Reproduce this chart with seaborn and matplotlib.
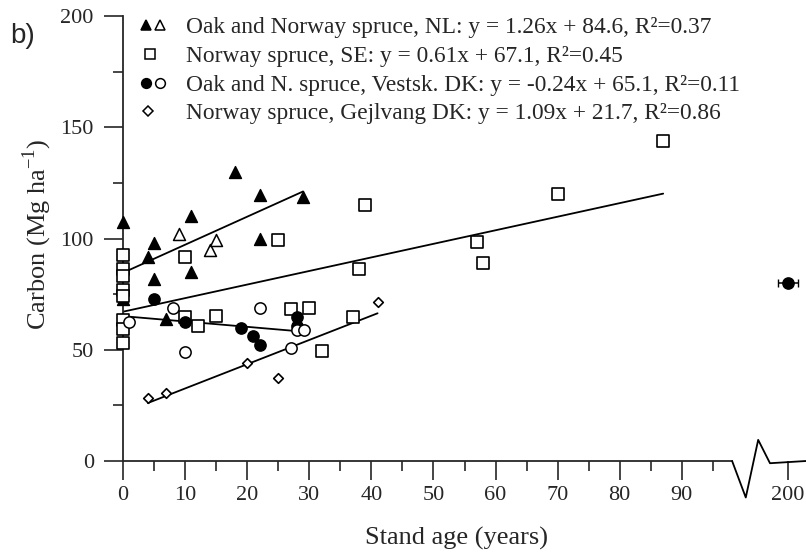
import numpy as np
import matplotlib
matplotlib.use('Agg')
import matplotlib.pyplot as plt
import seaborn as sns

# ---- data ----
nl_filled_x = [0, 0, 4, 5, 5, 7, 11, 11, 18, 22, 22, 29]
nl_filled_y = [107.5, 73, 91.5, 97.8, 82, 63.8, 110, 84.8, 130, 119.5, 100, 118.7]
nl_open_x = [9, 14, 15]
nl_open_y = [102.2, 94.7, 99.5]

se_x = [0, 0, 0, 0, 0, 0, 0, 0, 10, 25, 10, 15, 12, 27, 30, 32, 39, 57, 58, 38, 37, 70, 87]
se_y = [92.5, 86.5, 83, 77, 74, 63.5, 59.5, 53, 91.5, 99.5, 64.8, 65.3, 60.6, 68.3, 68.6,
        49.6, 114.9, 98.5, 88.8, 86.5, 64.5, 120.2, 143.8]

dk_filled_x = [5, 10, 19, 21, 22, 28, 28, 200]
dk_filled_y = [72.7, 62.4, 59.8, 56.1, 52.1, 64.6, 60.7, 80.2]
dk_open_x = [1, 8, 22, 10, 27, 28, 29.2]
dk_open_y = [62.6, 68.6, 68.6, 48.9, 50.6, 58.8, 59.1]

gj_x = [4, 7, 20, 25, 41]
gj_y = [28.4, 30.4, 44.2, 37.4, 71.5]

# regression lines: slope, intercept, x range
fits = {
    'NL': (1.26, 84.6, 0, 29),
    'SE': (0.61, 67.1, 0, 87),
    'DK': (-0.24, 65.1, 0, 28),
    'GJ': (1.09, 21.7, 4, 41),
}

legend_labels = [
    'Oak and Norway spruce, NL: y = 1.26x + 84.6, R\u00b2=0.37',
    'Norway spruce, SE: y = 0.61x + 67.1, R\u00b2=0.45',
    'Oak and N. spruce, Vestsk. DK: y = -0.24x + 65.1, R\u00b2=0.11',
    'Norway spruce, Gejlvang DK: y = 1.09x + 21.7, R\u00b2=0.86',
]

x_ticks = [0, 10, 20, 30, 40, 50, 60, 70, 80, 90, 200]


def brk(x):
    # broken axis: values above 100 are drawn just after the break
    x = np.asarray(x, dtype=float)
    return np.where(x > 100, x - 92.9, x)


sns.set_style('ticks')
plt.rcParams['font.family'] = ['Liberation Serif', 'DejaVu Serif']
plt.rcParams['mathtext.fontset'] = 'custom'
plt.rcParams['mathtext.rm'] = 'Liberation Serif'

W, H = 806, 553
fig = plt.figure(figsize=(W / 100, H / 100), dpi=100)
ax = fig.add_axes([123 / W, 92 / H, 1 - 123 / W, 445 / H])

pt = dict(clip_on=False, zorder=3, legend=False, ax=ax)
sns.scatterplot(x=brk(nl_filled_x), y=nl_filled_y, marker='^', s=74, color='black',
                edgecolor='black', linewidth=1, **pt)
sns.scatterplot(x=brk(nl_open_x), y=nl_open_y, marker='^', s=74, color='white',
                edgecolor='black', linewidth=1.1, **pt)
sns.scatterplot(x=brk(se_x), y=se_y, marker='s', s=63, color='white',
                edgecolor='black', linewidth=1.2, **pt)
sns.scatterplot(x=brk(dk_filled_x), y=dk_filled_y, marker='o', s=66, color='black',
                edgecolor='black', linewidth=1, **pt)
sns.scatterplot(x=brk(dk_open_x), y=dk_open_y, marker='o', s=66, color='white',
                edgecolor='black', linewidth=1.1, **pt)
sns.scatterplot(x=brk(gj_x), y=gj_y, marker='D', s=24, color='white',
                edgecolor='black', linewidth=1.2, **pt)

# error bar of the old stand
ax.errorbar(brk(dk_filled_x[-1:]), dk_filled_y[-1:], xerr=1.6, fmt='none',
            ecolor='black', elinewidth=1.1, capsize=3, clip_on=False, zorder=2)

for key, (a, b, x0, x1) in fits.items():
    xs = np.array([x0, x1], dtype=float)
    sns.lineplot(x=xs, y=a * xs + b, color='black', linewidth=1.3, ax=ax, zorder=2)

ax.set_xlim(0, 110.0)
ax.set_ylim(0, 200)
sns.despine(ax=ax)
ax.spines['left'].set_linewidth(1.3)
ax.spines['bottom'].set_linewidth(1.3)
ax.spines['bottom'].set_bounds(0, 98.1)

# axis break zigzag and the short piece of axis after it
ax.plot([98.1, 100.3, 102.3, 104.2, 110.0], [0, -16.4, 9.5, -1, 0], color='black',
        linewidth=1.3, clip_on=False, zorder=4)

ax.set_xticks(brk(x_ticks), [str(v) for v in x_ticks])
ax.set_xticks(np.arange(5, 100, 10), minor=True)
ax.set_yticks([0, 50, 100, 150, 200])
ax.set_yticks([25, 75, 125, 175], minor=True)
ax.tick_params(which='major', direction='out', length=14, width=1.2, labelsize=16)
ax.tick_params(which='minor', direction='out', length=7, width=1.2)
ax.tick_params(axis='y', which='major', pad=7)
ax.tick_params(axis='x', which='major', pad=4)

ax.set_xlabel('Stand age (years)', fontsize=19, va='bottom')
ax.xaxis.set_label_coords(0.489, -0.2)
ax.set_ylabel(r'Carbon (Mg ha$^{\mathregular{-1}}$)', fontsize=19)
ax.yaxis.set_label_coords(-0.101, 0.51)

fig.text(10 / W, 1 - 43 / H, 'b)', fontsize=20, family='Liberation Sans', va='baseline')

# legend drawn by hand: marker columns, then text
rows_y = [25, 54, 83, 111]
leg_marks = [
    [('^', 'black', 146), ('^', 'white', 160)],
    [('s', 'white', 150)],
    [('o', 'black', 146), ('o', 'white', 160)],
    [('D', 'white', 148)],
]
for yy, marks, label in zip(rows_y, leg_marks, legend_labels):
    fy = 1 - yy / H
    for m, fc, xx in marks:
        ax.plot([xx / W], [fy], marker=m, ms=5 if m == 'D' else 7, mfc=fc, mec='black',
                mew=1.1, ls='none', transform=fig.transFigure, clip_on=False)
    fig.text(186 / W, fy, label, fontsize=16.8, va='center_baseline')

fig.savefig('out.png', dpi=100)
